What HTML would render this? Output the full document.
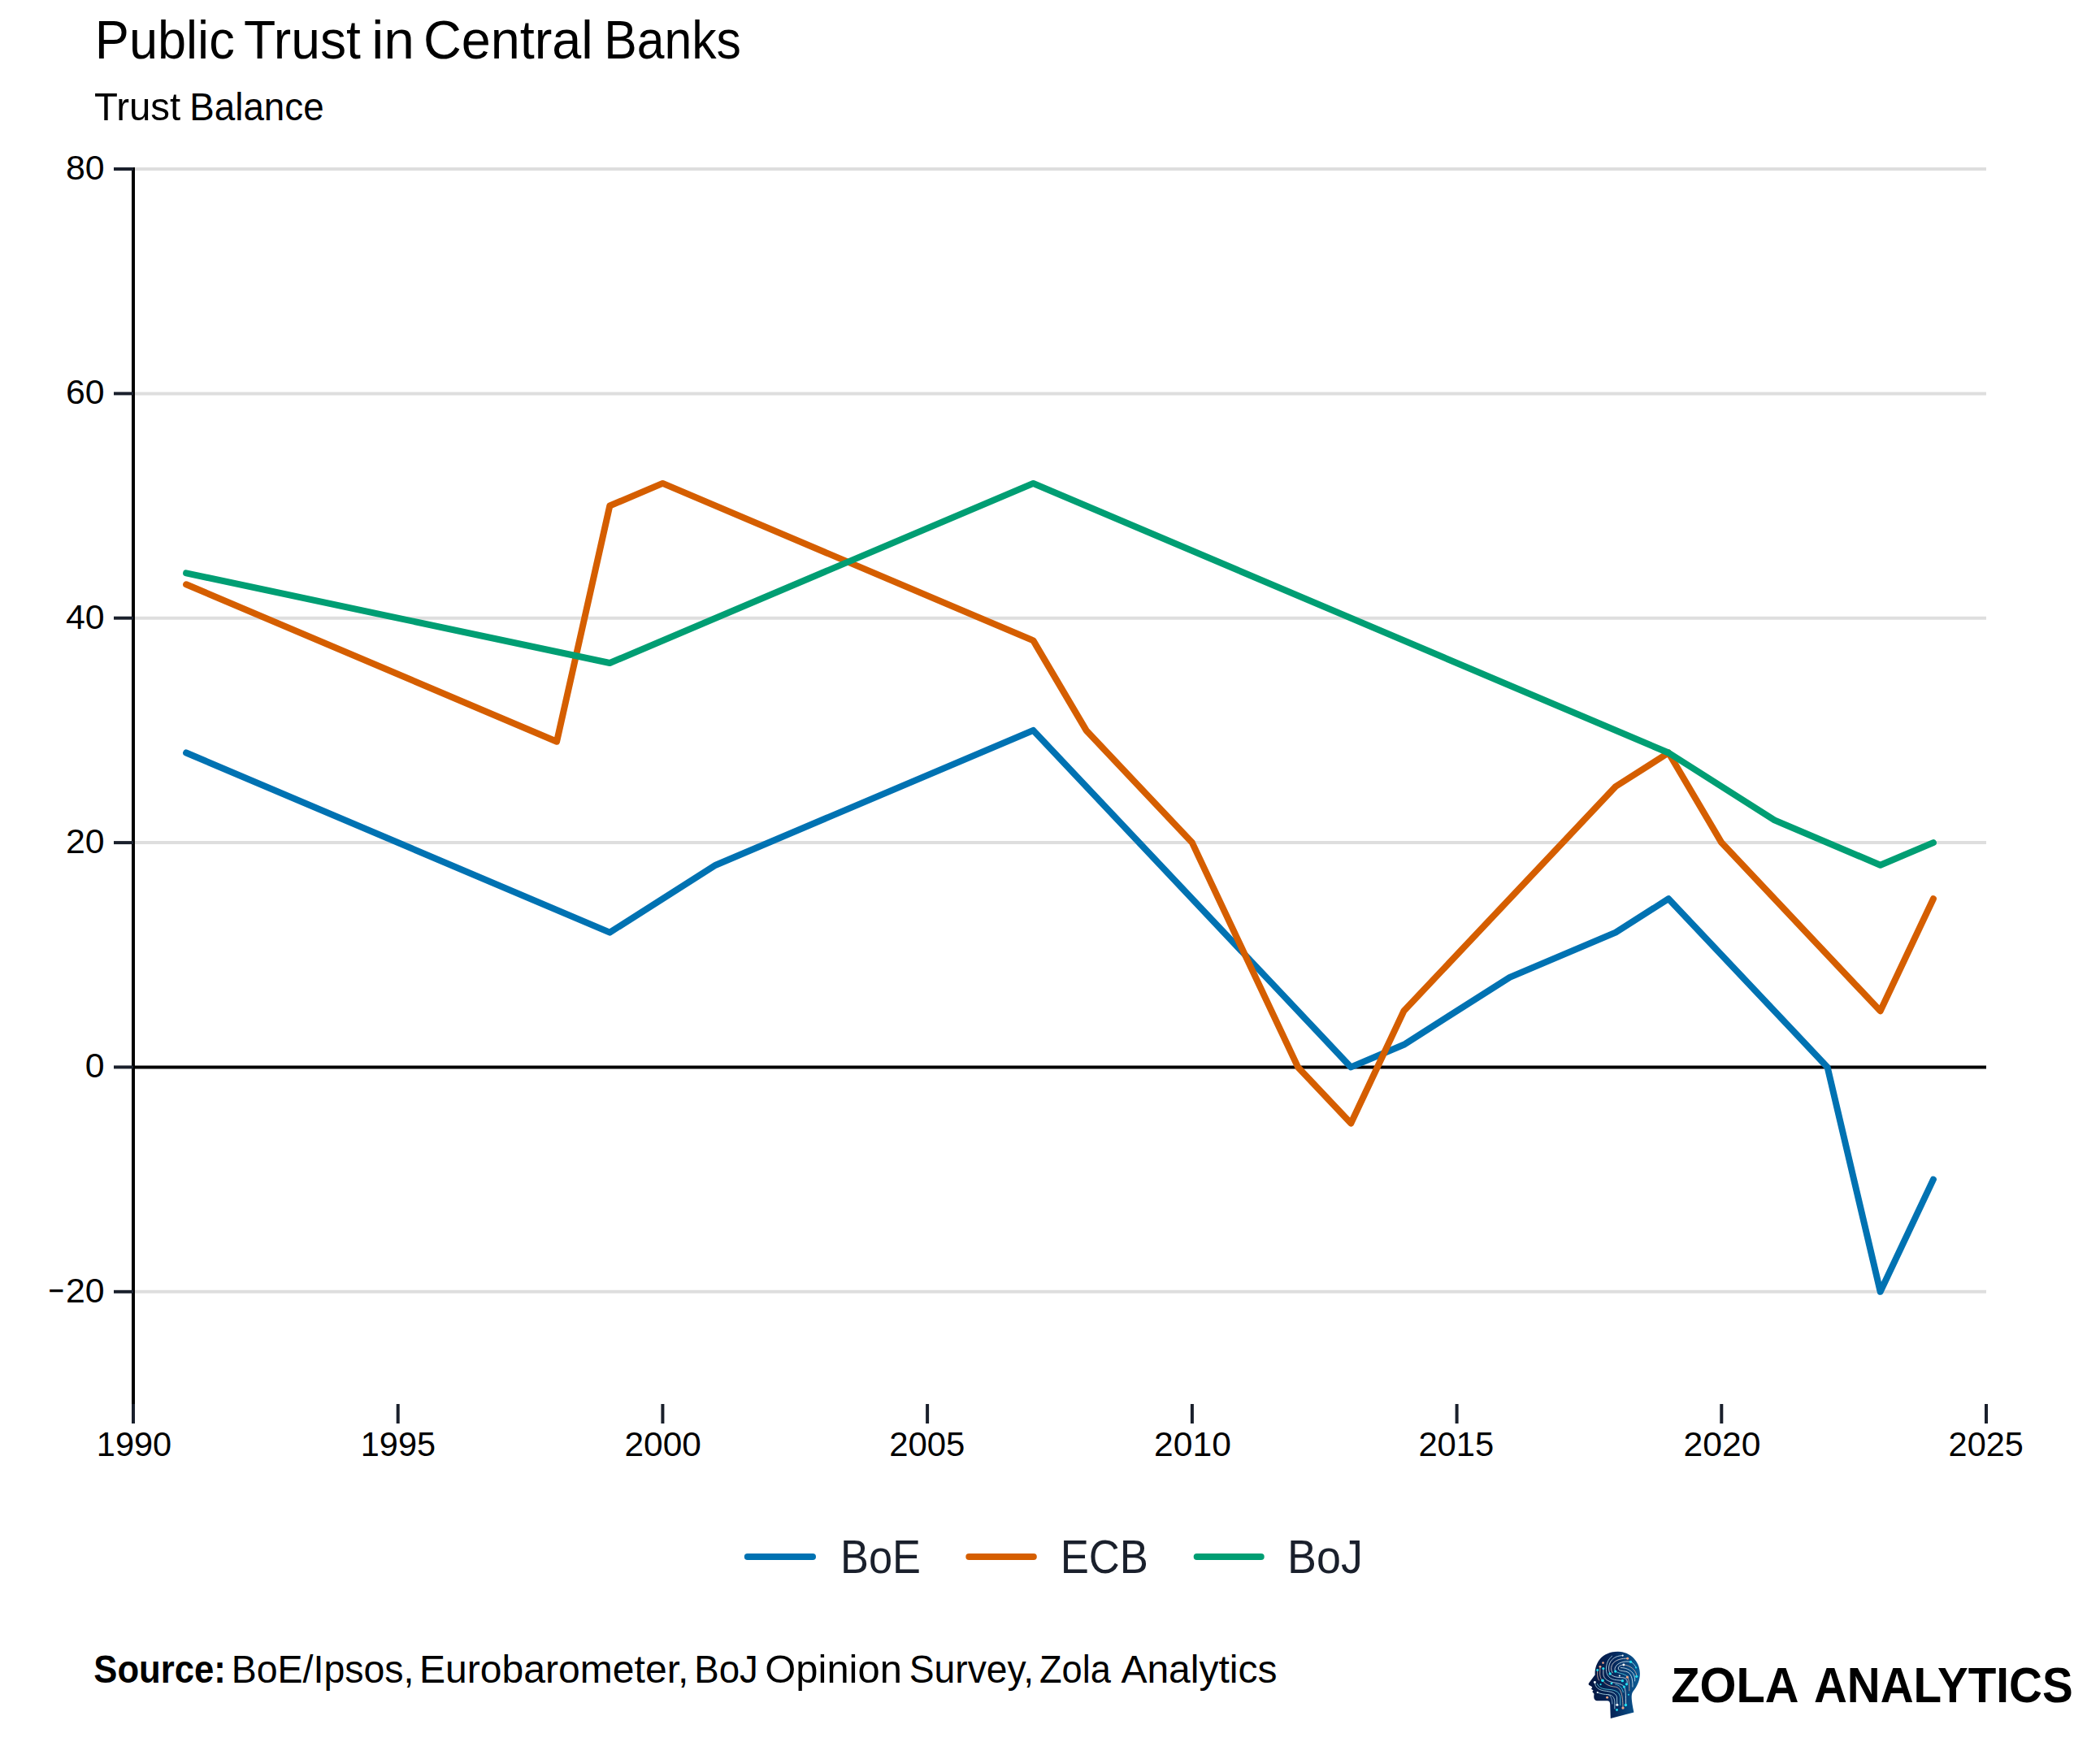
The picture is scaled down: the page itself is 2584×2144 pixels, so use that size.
<!DOCTYPE html>
<html lang="en">
<head>
<meta charset="utf-8">
<title>Public Trust in Central Banks</title>
<style>
html,body{margin:0;padding:0;background:#fff;}
body{width:2584px;height:2144px;overflow:hidden;}
svg{display:block;}
svg text{font-family:"Liberation Sans",Arial,sans-serif;}
</style>
</head>
<body>
<svg width="2584" height="2144" viewBox="0 0 2584 2144">
<rect width="2584" height="2144" fill="#ffffff"/>

<g stroke="#dedede" stroke-width="4" fill="none">
<line x1="166" y1="208.0" x2="2444" y2="208.0"/>
<line x1="166" y1="484.4" x2="2444" y2="484.4"/>
<line x1="166" y1="760.7" x2="2444" y2="760.7"/>
<line x1="166" y1="1037.1" x2="2444" y2="1037.1"/>
<line x1="166" y1="1589.8" x2="2444" y2="1589.8"/>
</g>
<line x1="164" y1="1313.4" x2="2444" y2="1313.4" stroke="#000" stroke-width="4"/>
<polyline points="229.1,926.5 750.3,1147.6 880.6,1064.7 1271.4,898.9 1662.3,1313.4 1727.4,1285.8 1857.7,1202.9 1988.0,1147.6 2053.1,1106.2 2248.6,1313.4 2313.7,1589.8 2378.9,1451.6" fill="none" stroke="#0072B2" stroke-width="8" stroke-linejoin="round" stroke-linecap="round"/>
<polyline points="229.1,719.3 685.1,912.7 750.3,622.5 815.4,594.9 1271.4,788.4 1336.6,898.9 1466.9,1037.1 1597.1,1313.4 1662.3,1382.5 1727.4,1244.3 1988.0,968.0 2053.1,926.5 2118.3,1037.1 2313.7,1244.3 2378.9,1106.2" fill="none" stroke="#D55E00" stroke-width="8" stroke-linejoin="round" stroke-linecap="round"/>
<polyline points="229.1,705.4 750.3,816.0 1271.4,594.9 2053.1,926.5 2183.4,1009.4 2313.7,1064.7 2378.9,1037.1" fill="none" stroke="#009E73" stroke-width="8" stroke-linejoin="round" stroke-linecap="round"/>
<line x1="164" y1="206" x2="164" y2="1729.5" stroke="#000" stroke-width="4"/>
<g stroke="#1a202c" stroke-width="4">
<line x1="140" y1="208.0" x2="164" y2="208.0"/>
<line x1="140" y1="484.4" x2="164" y2="484.4"/>
<line x1="140" y1="760.7" x2="164" y2="760.7"/>
<line x1="140" y1="1037.1" x2="164" y2="1037.1"/>
<line x1="140" y1="1313.4" x2="164" y2="1313.4"/>
<line x1="140" y1="1589.8" x2="164" y2="1589.8"/>
<line x1="164.0" y1="1728" x2="164.0" y2="1752"/>
<line x1="489.7" y1="1728" x2="489.7" y2="1752"/>
<line x1="815.4" y1="1728" x2="815.4" y2="1752"/>
<line x1="1141.1" y1="1728" x2="1141.1" y2="1752"/>
<line x1="1466.9" y1="1728" x2="1466.9" y2="1752"/>
<line x1="1792.6" y1="1728" x2="1792.6" y2="1752"/>
<line x1="2118.3" y1="1728" x2="2118.3" y2="1752"/>
<line x1="2444.0" y1="1728" x2="2444.0" y2="1752"/>
</g>
<text y="72" font-size="66"><tspan x="116.8" textLength="171.9" lengthAdjust="spacingAndGlyphs">Public</tspan> <tspan x="300.0" textLength="143.8" lengthAdjust="spacingAndGlyphs">Trust</tspan> <tspan x="457.3" textLength="52.7" lengthAdjust="spacingAndGlyphs">in</tspan> <tspan x="520.9" textLength="208.8" lengthAdjust="spacingAndGlyphs">Central</tspan> <tspan x="743.3" textLength="168.5" lengthAdjust="spacingAndGlyphs">Banks</tspan></text>
<text y="148" font-size="49"><tspan x="116.0" textLength="106.2" lengthAdjust="spacingAndGlyphs">Trust</tspan> <tspan x="233.3" textLength="165.3" lengthAdjust="spacingAndGlyphs">Balance</tspan></text>
<text x="128.5" y="220.9" font-size="42.6" text-anchor="end" textLength="47.6" lengthAdjust="spacingAndGlyphs">80</text>
<text x="128.5" y="497.3" font-size="42.6" text-anchor="end" textLength="47.6" lengthAdjust="spacingAndGlyphs">60</text>
<text x="128.5" y="773.6" font-size="42.6" text-anchor="end" textLength="47.6" lengthAdjust="spacingAndGlyphs">40</text>
<text x="128.5" y="1050.0" font-size="42.6" text-anchor="end" textLength="47.6" lengthAdjust="spacingAndGlyphs">20</text>
<text x="128.5" y="1326.3" font-size="42.6" text-anchor="end" textLength="23.8" lengthAdjust="spacingAndGlyphs">0</text>
<text y="1602.7" font-size="42.6"><tspan x="59.5" textLength="19.5" lengthAdjust="spacingAndGlyphs">−</tspan><tspan x="80.9" textLength="47.6" lengthAdjust="spacingAndGlyphs">20</tspan></text>
<text x="118.8" y="1792" font-size="42.6" textLength="92.4" lengthAdjust="spacingAndGlyphs">1990</text>
<text x="443.8" y="1792" font-size="42.6" textLength="92.2" lengthAdjust="spacingAndGlyphs">1995</text>
<text x="768.5" y="1792" font-size="42.6" textLength="94.3" lengthAdjust="spacingAndGlyphs">2000</text>
<text x="1094.2" y="1792" font-size="42.6" textLength="93.2" lengthAdjust="spacingAndGlyphs">2005</text>
<text x="1420.1" y="1792" font-size="42.6" textLength="94.8" lengthAdjust="spacingAndGlyphs">2010</text>
<text x="1745.4" y="1792" font-size="42.6" textLength="92.9" lengthAdjust="spacingAndGlyphs">2015</text>
<text x="2071.5" y="1792" font-size="42.6" textLength="94.9" lengthAdjust="spacingAndGlyphs">2020</text>
<text x="2397.6" y="1792" font-size="42.6" textLength="92.2" lengthAdjust="spacingAndGlyphs">2025</text>
<line x1="919.8" y1="1916" x2="1000" y2="1916" stroke="#0072B2" stroke-width="8" stroke-linecap="round"/>
<text y="1935.7" font-size="58" fill="#1a202c"><tspan x="1034.0" textLength="98.9" lengthAdjust="spacingAndGlyphs">BoE</tspan></text>
<line x1="1192.3" y1="1916" x2="1271.8" y2="1916" stroke="#D55E00" stroke-width="8" stroke-linecap="round"/>
<text y="1935.7" font-size="58" fill="#1a202c"><tspan x="1304.7" textLength="108.3" lengthAdjust="spacingAndGlyphs">ECB</tspan></text>
<line x1="1472.7" y1="1916" x2="1551.7" y2="1916" stroke="#009E73" stroke-width="8" stroke-linecap="round"/>
<text y="1935.7" font-size="58" fill="#1a202c"><tspan x="1584.1" textLength="92.7" lengthAdjust="spacingAndGlyphs">BoJ</tspan></text>
<text y="2071.4" font-size="47.5" font-weight="bold"><tspan x="115.3" textLength="162.6" lengthAdjust="spacingAndGlyphs">Source:</tspan></text>
<text y="2071.4" font-size="47.5"><tspan x="284.7" textLength="224.8" lengthAdjust="spacingAndGlyphs">BoE/Ipsos,</tspan> <tspan x="516.0" textLength="331.4" lengthAdjust="spacingAndGlyphs">Eurobarometer,</tspan> <tspan x="854.2" textLength="78.7" lengthAdjust="spacingAndGlyphs">BoJ</tspan> <tspan x="941.3" textLength="168.6" lengthAdjust="spacingAndGlyphs">Opinion</tspan> <tspan x="1118.7" textLength="153.4" lengthAdjust="spacingAndGlyphs">Survey,</tspan> <tspan x="1279.0" textLength="87.9" lengthAdjust="spacingAndGlyphs">Zola</tspan> <tspan x="1379.4" textLength="192.1" lengthAdjust="spacingAndGlyphs">Analytics</tspan></text>
<text y="2095.2" font-size="61" font-weight="bold"><tspan x="2056.2" textLength="155.2" lengthAdjust="spacingAndGlyphs">ZOLA</tspan> <tspan x="2231.9" textLength="318.8" lengthAdjust="spacingAndGlyphs">ANALYTICS</tspan></text>
<defs>
<linearGradient id="hg" x1="0" y1="0" x2="1" y2="0">
<stop offset="0" stop-color="#04153f"/>
<stop offset="0.5" stop-color="#06275b"/>
<stop offset="1" stop-color="#0a5d97"/>
</linearGradient>
</defs>
<g transform="translate(1940,2020) scale(0.0597)">
<path fill="url(#hg)" d="M380 690 C372 600 395 480 470 380 C560 265 700 213 850 213 C1100 213 1305 410 1305 665 C1305 800 1250 930 1160 1040 C1120 1100 1125 1200 1180 1465 L700 1590 L690 1300 C688 1250 670 1226 630 1226 L440 1228 C380 1228 352 1190 356 1130 L360 1085 L322 1040 L345 1012 L300 985 L322 955 L310 932 L250 900 L246 872 Z"/>
<g fill="none" stroke-width="13" stroke-linecap="round">
<path stroke="#dff1f8" d="M950 295 C850 295 760 330 700 420 C650 500 655 610 690 670"/>
<path stroke="#bfeaf5" d="M730 305 C650 370 610 460 610 580 C610 700 680 790 830 800 L945 812"/>
<path stroke="#efe3df" d="M1050 355 C930 350 800 380 740 470 C700 540 710 600 740 650"/>
<path stroke="#e6f4fa" d="M1115 425 C980 400 850 440 800 530 C780 570 785 600 800 620"/>
<path stroke="#e6f4fa" d="M970 487 C900 490 850 520 860 570 C870 610 950 610 1020 625 C1120 650 1160 760 1155 940"/>
<path stroke="#e9b9a6" d="M970 487 C1100 490 1230 600 1235 700"/>
<path stroke="#9fe6f2" d="M1115 425 C1170 450 1210 500 1225 545"/>
<path stroke="#dbeef6" d="M910 545 C1000 545 1100 580 1160 660 C1200 720 1205 770 1200 820"/>
<path stroke="#5fdcec" d="M800 620 C870 670 950 650 1040 720"/>
<path stroke="#eaa98f" d="M1045 740 C1090 800 1085 900 1085 1020"/>
<path stroke="#dff1f8" d="M690 670 C740 740 850 745 950 750 C1030 760 1060 820 1035 885"/>
<path stroke="#e6f4fa" d="M550 560 L550 680 C560 780 650 830 760 850 C880 870 960 900 980 940 C1010 1000 1015 1100 1015 1310"/>
<path stroke="#e9b9a6" d="M485 525 L480 680 C490 760 510 790 535 810 C600 900 700 935 800 940 C900 960 950 1050 955 1370"/>
<path stroke="#e9b9a6" d="M430 595 L430 700 C435 760 445 780 462 805"/>
<path stroke="#bfeaf5" d="M375 845 C380 950 450 1000 560 1020 C700 1040 800 1050 830 1150 L835 1310"/>
<path stroke="#5fdcec" d="M425 880 C450 950 520 980 620 990 C760 1000 880 1020 900 1150 L900 1320"/>
<path stroke="#bfeaf5" d="M430 1055 C500 1090 580 1095 650 1100 C740 1110 780 1160 785 1250 L785 1390"/>
<path stroke="#5fdcec" d="M800 890 C880 900 940 960 960 1050"/>
<path stroke="#9cc7dd" d="M650 1100 C700 1120 730 1170 735 1290"/>
</g>
<g fill="#22dff0">
<circle cx="1115" cy="425" r="27"/><circle cx="1225" cy="545" r="18"/><circle cx="550" cy="560" r="26"/>
<circle cx="430" cy="595" r="24"/><circle cx="800" cy="620" r="27"/><circle cx="690" cy="670" r="28"/>
<circle cx="1235" cy="725" r="27"/><circle cx="945" cy="815" r="28"/><circle cx="535" cy="810" r="30"/>
<circle cx="720" cy="870" r="24"/><circle cx="1030" cy="885" r="27"/><circle cx="978" cy="940" r="26"/>
<circle cx="495" cy="890" r="18"/><circle cx="1070" cy="1100" r="17"/><circle cx="1012" cy="1315" r="28"/>
<circle cx="830" cy="1415" r="24"/>
</g>
<g fill="#f2a586">
<circle cx="545" cy="445" r="22"/><circle cx="485" cy="525" r="24"/><circle cx="1050" cy="355" r="25"/>
<circle cx="1045" cy="740" r="27"/><circle cx="630" cy="1160" r="25"/><circle cx="955" cy="1375" r="27"/>
</g>
<g fill="#f4fbfd">
<circle cx="950" cy="295" r="17"/><circle cx="970" cy="487" r="25"/><circle cx="885" cy="712" r="18"/>
<circle cx="835" cy="1310" r="26"/><circle cx="430" cy="1055" r="18"/><circle cx="375" cy="845" r="24"/>
</g>
</g>

</svg>
</body>
</html>
